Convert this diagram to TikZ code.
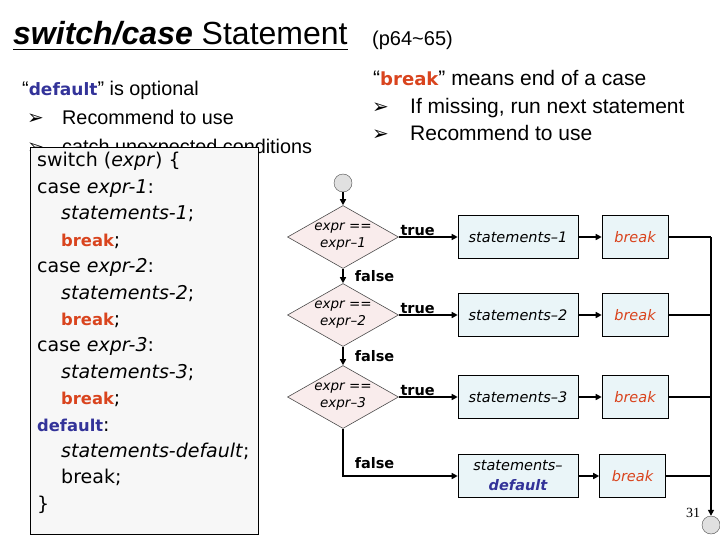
\documentclass[tikz,border=0pt]{standalone}
\usepackage{fontspec}
\setmainfont{Liberation Sans}
\newfontfamily\comic{DejaVu Sans}
\newfontfamily\kwfont{DejaVu Sans}[Scale=0.86]
\newfontfamily\dings{DejaVu Sans}
\newfontfamily\pgnum{Liberation Serif}
\usepackage{xcolor}
\usepackage{tikz}
\usetikzlibrary{arrows.meta,shapes.geometric}
\definecolor{kwred}{RGB}{217,68,30}
\definecolor{kwblue}{RGB}{51,51,153}
\definecolor{codebg}{RGB}{247,247,247}
\definecolor{condbg}{RGB}{249,236,236}
\definecolor{stmtbg}{RGB}{234,245,248}
\definecolor{termbg}{RGB}{224,224,224}
\newcommand\kwbreak{{\kwfont\bfseries\color{kwred}break}}
\newcommand\kwdefault{{\kwfont\bfseries\color{kwblue}default}}
\tikzset{
  txt/.style={inner sep=0pt, anchor=base west, font=\fontsize{20}{24}\selectfont},
  bullet/.style={txt, font=\dings\fontsize{20}{24}\selectfont},
  codebox/.style={draw, line width=0.8pt, fill=codebg, anchor=north west},
  codeline/.style={inner sep=0pt, anchor=base west, font=\comic\fontsize{19}{26}\selectfont},
  % flowchart
  cond/.style={diamond, aspect=1.76, draw=black!70, fill=condbg, line width=0.6pt,
    minimum width=111pt, minimum height=63pt, inner sep=0pt, align=center,
    font=\comic\itshape\fontsize{13.5}{17}\selectfont},
  stmt/.style={draw, line width=0.6pt, fill=stmtbg, minimum width=120pt, minimum height=43pt,
    align=center, font=\comic\itshape\fontsize{14.5}{20}\selectfont},
  brk/.style={stmt, minimum width=66pt, text=kwred},
  term/.style={circle, draw=black!70, fill=termbg, minimum size=18pt, inner sep=0pt},
  flow/.style={line width=1.5pt, -{Triangle[length=6pt,width=6pt]}},
  joinline/.style={line width=1.5pt},
  lbl/.style={font=\comic\bfseries\fontsize{14.5}{16}\selectfont, inner sep=1pt}
}

\begin{document}
\begin{tikzpicture}[x=1pt, y=-1pt]
  \useasboundingbox (0,0) rectangle (720,540);
  % title
  \node[txt, font=\fontsize{32}{36}\selectfont] (title) at (13,45) {\textbf{\textit{switch/case}} Statement};
  \draw[line width=1.5pt] ([yshift=-4.5pt]title.base west) -- ([yshift=-4.5pt]title.base east);
  \node[txt] (pages) at (372,46) {(p64\textasciitilde65)};
  % notes
  \node[txt, font=\fontsize{19.8}{24}\selectfont] (defnote) at (22,96) {“\kwdefault” is optional};
  \node[bullet] (lb1) at (27,125) {➢};
  \node[txt, font=\fontsize{19.8}{24}\selectfont] (ln1) at (62,125) {Recommend to use};
  \node[bullet] (lb2) at (27,154) {➢};
  \node[txt, font=\fontsize{19.8}{24}\selectfont] (ln2) at (62,154) {catch unexpected conditions};
  \node[txt, font=\fontsize{21}{25}\selectfont] (brknote) at (373,86) {“\kwbreak” means end of a case};
  \node[bullet] (rb1) at (372,114) {➢};
  \node[txt, font=\fontsize{21}{25}\selectfont] (rn1) at (410,114) {If missing, run next statement};
  \node[bullet] (rb2) at (372,141) {➢};
  \node[txt, font=\fontsize{21}{25}\selectfont] (rn2) at (410,141) {Recommend to use};
  % code
  \node[codebox, minimum width=228pt, minimum height=387pt] (code) at (30,147) {};
  \foreach \i/\cx/\ln in {1/37/{switch (\textit{expr}) \{}, 2/37/{case \textit{expr-1}:},
      3/61/{\textit{statements-1};}, 4/61/{\kwbreak;}, 5/37/{case \textit{expr-2}:},
      6/61/{\textit{statements-2};}, 7/61/{\kwbreak;}, 8/37/{case \textit{expr-3}:},
      9/61/{\textit{statements-3};}, 10/61/{\kwbreak;}, 11/37/{\kwdefault:},
      12/61/{\textit{statements-default};}, 13/61/{break;}, 14/37/{\}}}{
    \node[codeline] (c\i) at (\cx,140.6+26.4*\i) {\ln};
  }
  % flowchart
  \node[term] (start) at (343,183) {};
  \node[term] (stop) at (711,525) {};
  \foreach \i/\y in {1/237,2/315,3/397}{
    \node[cond] (d\i) at (343,\y) {expr ==\\expr–\i};
    \node[stmt] (s\i) at (518,\y) {statements–\i};
    \node[brk] (b\i) at (635,\y) {break};
    \draw[flow] (d\i) -- node[lbl, pos=0, anchor=south west]{true} (s\i);
    \draw[flow] (s\i) -- (b\i);
  }
  \node[stmt] (s4) at (518,476) {statements–\\{\bfseries\color{kwblue}default}};
  \node[brk] (b4) at (632.5,476) {break};
  \draw[flow] (start) -- (d1);
  \draw[flow] (d1) -- node[lbl, right, xshift=10pt]{false} (d2);
  \draw[flow] (d2) -- node[lbl, right, xshift=10pt]{false} (d3);
  \draw[flow] (d3.south) |- node[lbl, pos=0.5, anchor=south west, xshift=10pt, yshift=6pt]{false} (s4);
  \draw[flow] (s4) -- (b4);
  \foreach \i in {1,...,4}
    \draw[joinline] (b\i) -- (b\i -| stop);
  \draw[flow] (b1.east -| stop) -- (stop);
  \node[txt, font=\pgnum\fontsize{14}{16}\selectfont] (pgno) at (686,517) {31};
\end{tikzpicture}
\end{document}
